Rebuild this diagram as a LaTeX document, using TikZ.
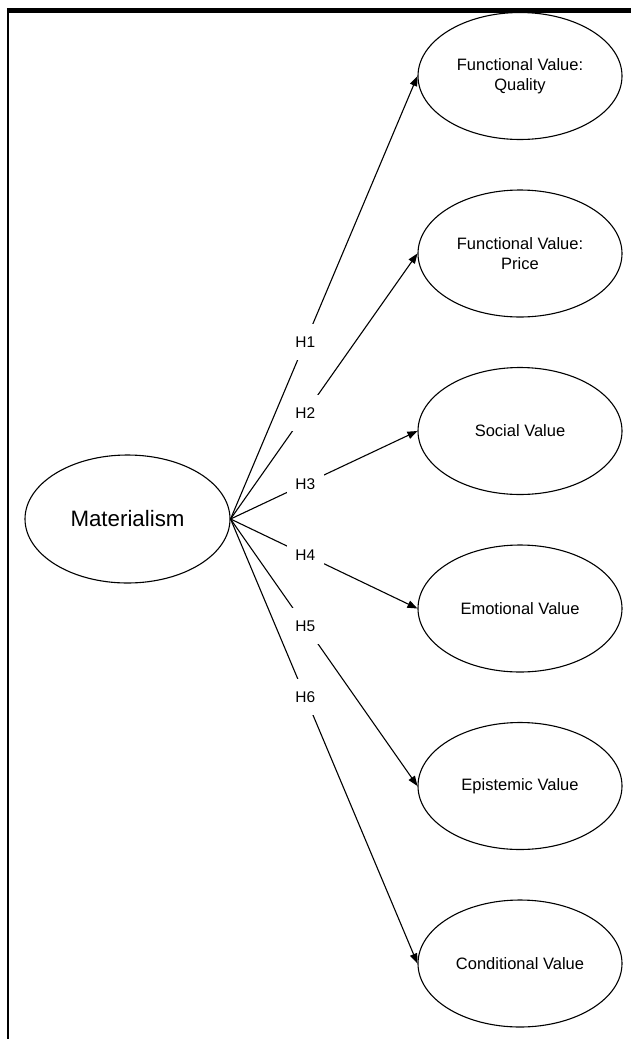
\documentclass[tikz,border=0pt]{standalone}
\usepackage{fontspec}
\setmainfont{Liberation Sans}
\usetikzlibrary{arrows.meta,shapes.geometric}
\begin{document}
\begin{tikzpicture}[x=1pt,y=-1pt,
  val/.style={draw, ellipse, line width=1.1pt, minimum width=204pt, minimum height=127pt, inner sep=0pt, align=center, font=\fontsize{16.5}{19.5}\selectfont},
  hyp/.style={-{Triangle[length=10pt,width=7.5pt]}, line width=1.1pt},
  hlab/.style={fill=white, minimum width=37pt, minimum height=36pt, inner sep=0pt, font=\fontsize{15.5}{18}\selectfont}
]
\useasboundingbox (0,0) rectangle (631,1039);
\fill[white] (0,0) rectangle (631,1039);
\draw[line width=4.5pt] (6.75,10.5) -- (631,10.5);
\draw[line width=2.5pt] (8,8.25) -- (8,1039);

\node[val, minimum width=205pt, minimum height=128pt, font=\fontsize{22.3}{26}\selectfont] (m) at (127.5,519) {Materialism};
\node[val] (q) at (520,76) {Functional Value:\\Quality};
\node[val] (p) at (520,253.5) {Functional Value:\\Price};
\node[val] (s) at (520,431) {Social Value};
\node[val] (e) at (520,608.5) {Emotional Value};
\node[val] (ep) at (520,786) {Epistemic Value};
\node[val] (c) at (520,963.5) {Conditional Value};

\draw[hyp] (m.east) -- (q.west) node[hlab, pos=0.4] (h1) {H1};
\draw[hyp] (m.east) -- (p.west) node[hlab, pos=0.4] (h2) {H2};
\draw[hyp] (m.east) -- (s.west) node[hlab, pos=0.4] (h3) {H3};
\draw[hyp] (m.east) -- (e.west) node[hlab, pos=0.4] (h4) {H4};
\draw[hyp] (m.east) -- (ep.west) node[hlab, pos=0.4] (h5) {H5};
\draw[hyp] (m.east) -- (c.west) node[hlab, pos=0.4] (h6) {H6};
\end{tikzpicture}
\end{document}
